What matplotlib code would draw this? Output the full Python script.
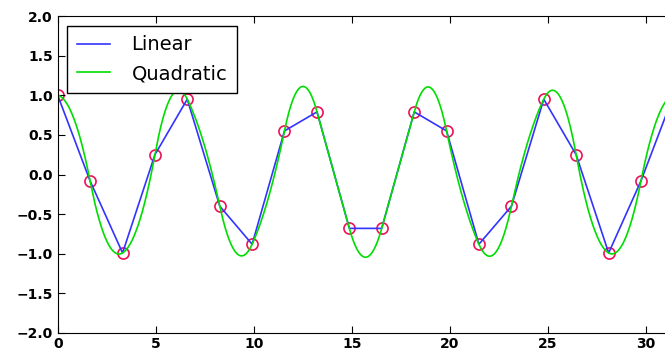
import numpy as np
import matplotlib
matplotlib.use('Agg')
import matplotlib.pyplot as plt

# sample points
x = [0.0, 1.65, 3.31, 4.96, 6.61, 8.27, 9.92, 11.57, 13.23, 14.88,
     16.53, 18.19, 19.84, 21.49, 23.15, 24.80, 26.45, 28.11, 29.76, 31.42]
y = [1.0, -0.08, -0.99, 0.25, 0.95, -0.40, -0.88, 0.55, 0.79, -0.68,
     -0.68, 0.79, 0.55, -0.88, -0.40, 0.95, 0.25, -0.99, -0.08, 1.0]
labels = ['Linear', 'Quadratic']

# quadratic spline with knots at the points ("smoothest" choice of the
# free start slope: minimise the integral of s''^2)
xa = np.array(x)
ya = np.array(y)
h = np.diff(xa)
d = np.diff(ya) / h
n = len(h)
# slopes m_i = a_i + b_i * m0
a = np.zeros(n + 1)
b = np.zeros(n + 1)
b[0] = 1.0
for i in range(n):
    a[i + 1] = 2 * d[i] - a[i]
    b[i + 1] = -b[i]
# c_i = (d_i - m_i) / h_i  -> linear in m0
ca = (d - a[:-1]) / h
cb = -b[:-1] / h
w = h
m0 = -np.sum(w * ca * cb) / np.sum(w * cb * cb)
m = a + b * m0
c = (d - m[:-1]) / h

xnew = np.linspace(xa[0], xa[-1], 800)
idx = np.clip(np.searchsorted(xa, xnew, side='right') - 1, 0, n - 1)
dx = xnew - xa[idx]
ynew = ya[idx] + m[idx] * dx + c[idx] * dx ** 2

fig = plt.figure(figsize=(6.65, 3.58), dpi=100)
ax = fig.add_axes([57.7 / 665, 25 / 358, 31.42 * 19.6 / 665, 317 / 358])

ax.plot(x, y, 'o', mfc='none', mec='#ee1155', mew=1.2, ms=8, zorder=1)
ax.plot(x, y, '-', color='#3333ff', lw=1.2, label=labels[0], zorder=2)
ax.plot(xnew, ynew, '-', color='#00dd00', lw=1.2, label=labels[1], zorder=2)

ax.set_xlim(0, 31.42)
ax.set_ylim(-2, 2)
ax.set_xticks([0, 5, 10, 15, 20, 25, 30])
ax.set_yticks(np.arange(-2, 2.01, 0.5))
ax.tick_params(direction='in', length=5, top=True, right=True, labelsize=10)
for lab in ax.get_xticklabels() + ax.get_yticklabels():
    lab.set_fontweight('bold')
ax.tick_params(axis='x', pad=3)

leg = ax.legend(loc='upper left', fontsize=14, fancybox=False, framealpha=1,
                edgecolor='black', borderaxespad=0.5, borderpad=0.5,
                handlelength=1.7, handletextpad=1.1)
leg.get_frame().set_linewidth(1.0)

fig.savefig('out.png', dpi=100)
